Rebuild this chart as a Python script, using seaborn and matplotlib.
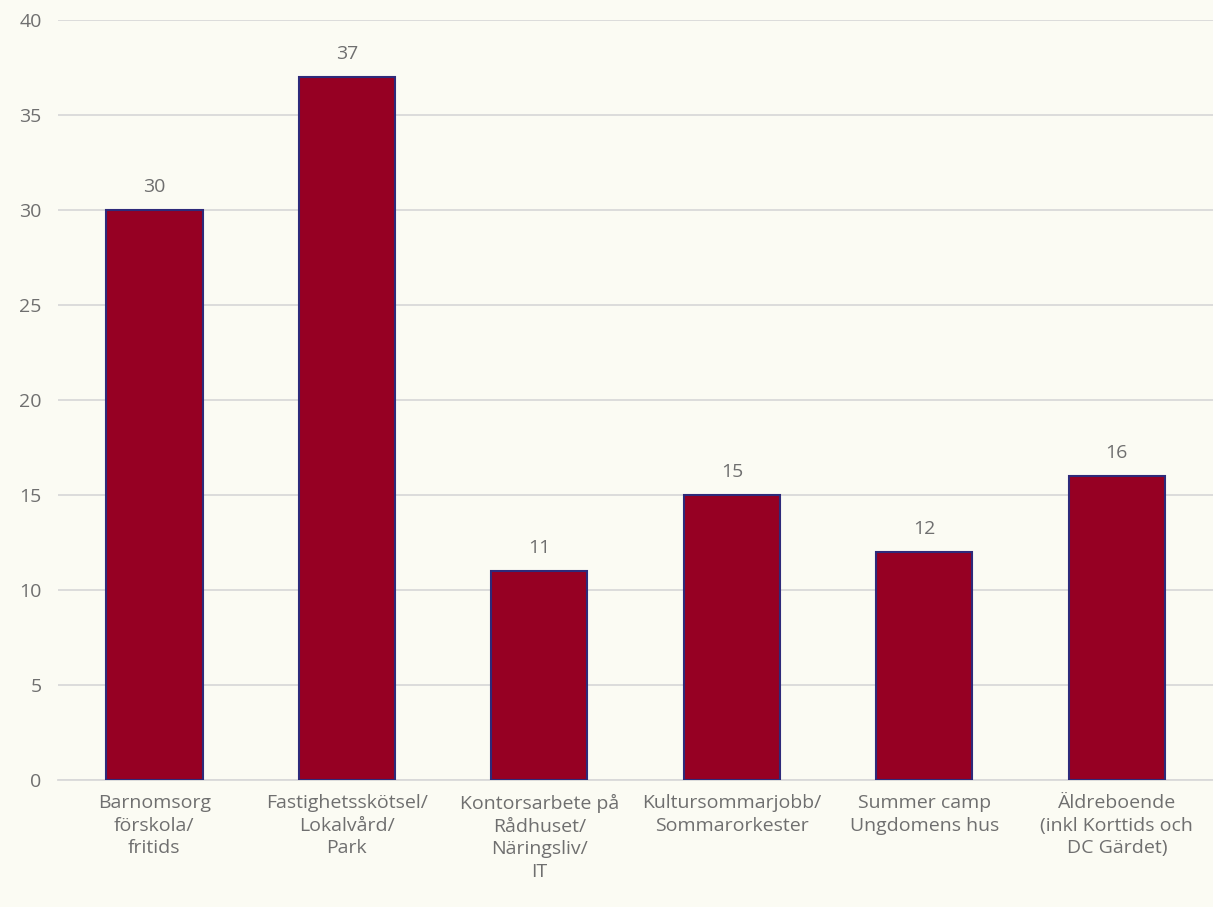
import pandas as pd
import matplotlib.pyplot as plt
import seaborn as sns

categories = ["Barnomsorg\nförskola/\nfritids",
              "Fastighetsskötsel/\nLokalvård/\nPark",
              "Kontorsarbete på\nRådhuset/\nNäringsliv/\nIT",
              "Kultursommarjobb/\nSommarorkester",
              "Summer camp\nUngdomens hus",
              "Äldreboende\n(inkl Korttids och\nDC Gärdet)"]
values = [30, 37, 11, 15, 12, 16]

bg = '#fbfbf3'
text_col = '#6f6f6f'

sns.set_style("white")
plt.rcParams['font.family'] = ['Open Sans', 'DejaVu Sans']

df = pd.DataFrame({'cat': categories, 'val': values})

fig = plt.figure(figsize=(12.13, 9.07), dpi=100, facecolor=bg)
ax = fig.add_axes([0.048, 0.14, 0.952, 0.838])
ax.set_facecolor(bg)

sns.barplot(data=df, x='cat', y='val', color='#960023', edgecolor='#2e2a7a',
            linewidth=1.5, width=0.5, saturation=1, ax=ax, zorder=3)

# value labels above bars
for i, v in enumerate(values):
    ax.text(i, v + 0.75, str(v), ha='center', va='bottom', fontsize=14, color=text_col)

ax.set_ylim(0, 40)
ax.set_xlim(-0.5, 5.5)
ax.set_yticks(range(0, 41, 5))
ax.yaxis.grid(True, color='#d9d9d9', linewidth=1.3, zorder=0)
ax.set_axisbelow(True)
for s in ['top', 'right', 'left']:
    ax.spines[s].set_visible(False)
ax.spines['bottom'].set_color('#d9d9d9')
ax.spines['bottom'].set_linewidth(1.3)
ax.set_xlabel('')
ax.set_ylabel('')
ax.tick_params(axis='both', length=0, labelsize=14, colors=text_col)
ax.tick_params(axis='x', pad=10)
ax.tick_params(axis='y', pad=12)
plt.setp(ax.get_xticklabels(), linespacing=1.33)

fig.savefig('out.png', dpi=100, facecolor=bg)
